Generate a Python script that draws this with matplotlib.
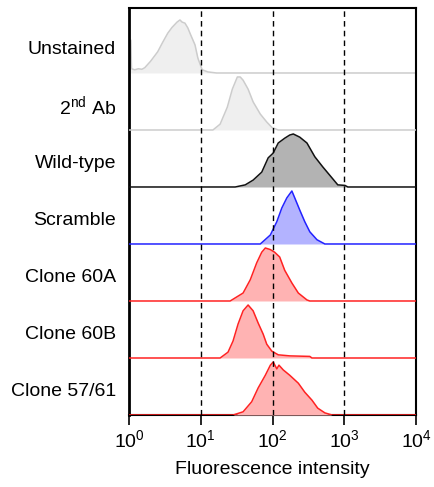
import numpy as np
import matplotlib.pyplot as plt

plt.rcParams['font.family'] = ['Liberation Sans', 'DejaVu Sans']
plt.rcParams['mathtext.fontset'] = 'custom'
plt.rcParams['mathtext.rm'] = 'Liberation Sans'
plt.rcParams['mathtext.it'] = 'Liberation Sans:italic'
plt.rcParams['mathtext.bf'] = 'Liberation Sans:bold'

# sample names, top to bottom
samples = ['Unstained', '2$^{\\mathrm{nd}}$ Ab', 'Wild-type', 'Scramble',
           'Clone 60A', 'Clone 60B', 'Clone 57/61']

# histogram outlines: log10(intensity) and count as % of mode
unst_lx = [0.0, 0.025, 0.035, 0.08, 0.13, 0.18, 0.22, 0.30, 0.40, 0.47, 0.54, 0.60,
           0.67, 0.71, 0.74, 0.78, 0.82, 0.85, 0.92, 0.96, 1.02, 1.10, 1.22]
unst_h = [62, 62, 8, 6, 8, 7, 10, 22, 40, 58, 75, 86,
          96, 100, 96, 94, 85, 75, 53, 28, 6, 2, 0]

ab2_lx = [1.17, 1.27, 1.37, 1.44, 1.51, 1.55, 1.59, 1.66, 1.73, 1.83, 1.92, 1.99, 2.08]
ab2_h = [0, 11, 43, 77, 100, 100, 94, 77, 53, 30, 15, 5, 0]

wt_lx = [1.48, 1.62, 1.73, 1.85, 1.94, 2.01, 2.08, 2.17, 2.24, 2.29, 2.38, 2.48,
         2.59, 2.70, 2.83, 2.91, 3.01, 3.05]
wt_h = [0, 4, 13, 28, 55, 64, 83, 92, 98, 100, 94, 83,
        57, 38, 17, 4, 3, 0]

scr_lx = [1.83, 1.97, 2.06, 2.13, 2.20, 2.27, 2.31, 2.38, 2.45, 2.52, 2.62, 2.73]
scr_h = [0, 17, 42, 68, 87, 100, 87, 64, 42, 23, 8, 0]

c60a_lx = [1.41, 1.59, 1.69, 1.78, 1.85, 1.90, 1.97, 2.03, 2.10, 2.17, 2.27, 2.36, 2.48, 2.52]
c60a_h = [0, 15, 40, 72, 92, 100, 97, 92, 83, 58, 34, 15, 2, 0]

c60b_lx = [1.27, 1.38, 1.45, 1.52, 1.59, 1.66, 1.73, 1.80, 1.87, 1.92, 1.99, 2.08,
           2.24, 2.52, 2.55]
c60b_h = [0, 11, 32, 64, 89, 100, 89, 66, 45, 26, 13, 6,
          4, 3, 0]

c5761_lx = [1.45, 1.59, 1.71, 1.80, 1.90, 1.97, 2.01, 2.06, 2.09, 2.15, 2.24, 2.36,
            2.45, 2.55, 2.63, 2.73, 2.83]
c5761_h = [0, 6, 25, 51, 75, 94, 100, 87, 94, 85, 75, 60,
           43, 28, 13, 4, 0]

curves = [(unst_lx, unst_h), (ab2_lx, ab2_h), (wt_lx, wt_h), (scr_lx, scr_h),
          (c60a_lx, c60a_h), (c60b_lx, c60b_h), (c5761_lx, c5761_h)]

line_cols = ['#cccccc', '#cccccc', '#111111', '#2222ff', '#ff2222', '#ff2222', '#ff2222']
fill_cols = ['#efefef', '#efefef', '#b3b3b3', '#b3b3ff', '#ffb3b3', '#ffb3b3', '#ffb3b3']

fig = plt.figure(figsize=(4.35, 4.87), dpi=100)
ax = fig.add_axes([129/435, 1 - 415/487, (416 - 129)/435, (415 - 8)/487])

n = len(samples)
scale = 0.93
for i, (lx, h) in enumerate(curves):
    base = n - 1 - i
    x = 10 ** np.array([0.0] + list(lx) + [4.0])
    y = base + scale * np.array([0] + list(h) + [0]) / 100.0
    ax.fill_between(x, base, y, color=fill_cols[i], lw=0, zorder=2 + i)
    ax.plot(x, y, color=line_cols[i], lw=1.1, zorder=2 + i)
    ax.text(-0.045, (base + 0.42) / 7.14, samples[i], transform=ax.transAxes,
            ha='right', va='center', fontsize=14)

for v in [10, 100, 1000]:
    ax.axvline(v, color='black', ls=(0, (4, 3)), lw=1, zorder=20)

ax.set_xscale('log')
ax.set_xlim(1, 1e4)
ax.set_ylim(0, 7.14)
ax.set_yticks([])
ax.set_xticks([1, 10, 100, 1000, 10000])
ax.tick_params(axis='x', which='major', length=7, width=1.2, labelsize=14, pad=3)
ax.tick_params(axis='x', which='minor', length=3.5, width=1)
for s in ax.spines.values():
    s.set_linewidth(1.5)
ax.spines['left'].set_linewidth(2)
ax.set_xlabel('Fluorescence intensity', fontsize=14, labelpad=7)

fig.savefig('out.png', dpi=100)
